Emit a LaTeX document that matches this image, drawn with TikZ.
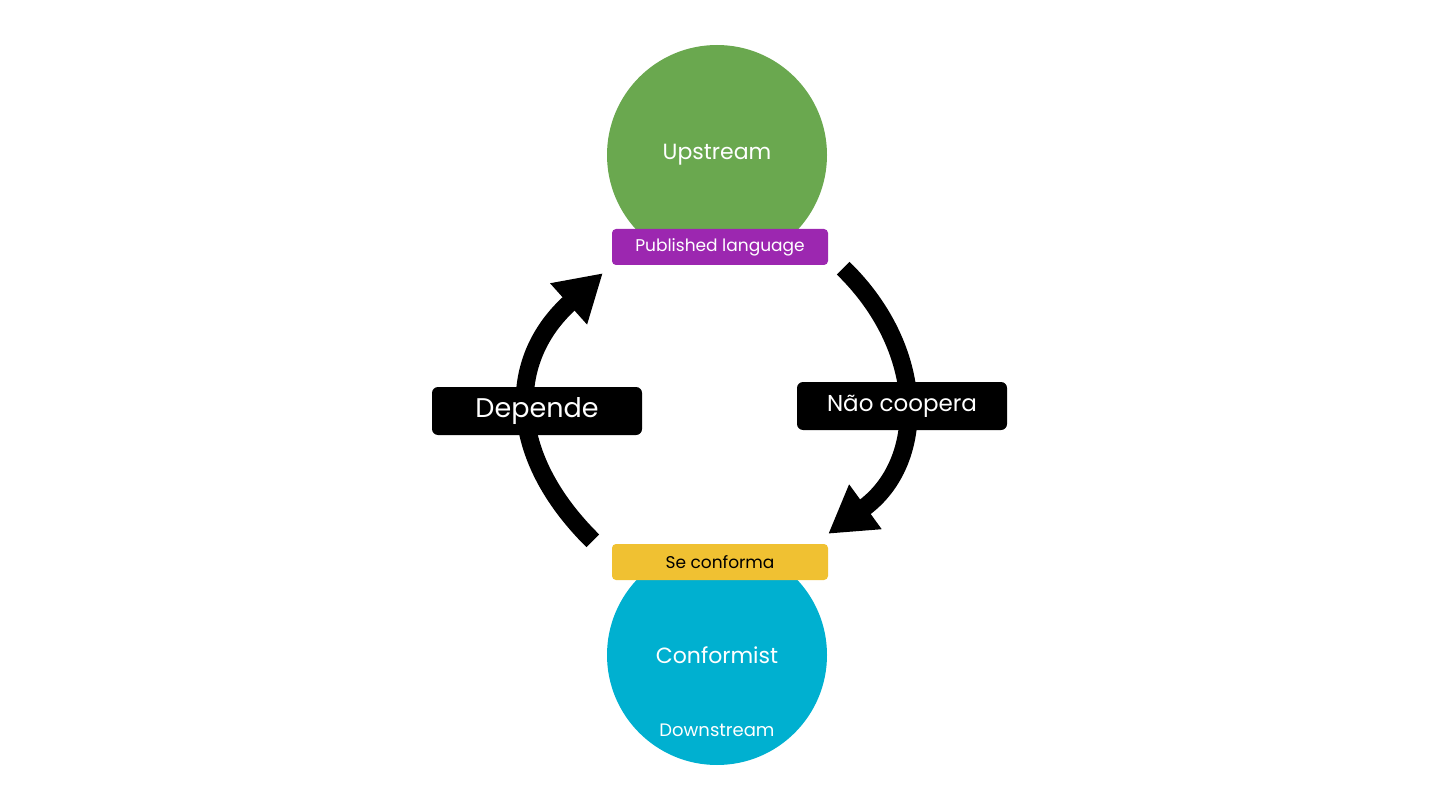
\documentclass[tikz,border=0pt]{standalone}
\usepackage{fontspec}
\setmainfont{Poppins}
\usetikzlibrary{positioning, arrows.meta}
\usepackage{xcolor}

\definecolor{upgreen}{RGB}{106,168,79}
\definecolor{downblue}{RGB}{0,176,208}
\definecolor{pubpurple}{RGB}{156,39,176}
\definecolor{confyellow}{RGB}{240,193,50}

\begin{document}
\begin{tikzpicture}[x=1pt, y=-1pt,
  ctx/.style={circle, minimum size=220pt, inner sep=0pt, text=white, font=\fontsize{22}{26}\selectfont},
  tag/.style={rounded corners=4pt, minimum width=216pt, minimum height=36pt, inner sep=0pt, font=\fontsize{17}{20}\selectfont},
  rel/.style={fill=black, rounded corners=6pt, minimum width=210pt, minimum height=48pt, inner sep=0pt, text=white},
  flow/.style={line width=18pt, -{Triangle[length=46pt, width=52pt]}}]

  \useasboundingbox (0,0) rectangle (1440,810);

  % ---- the two contexts ----
  \node[ctx, fill=upgreen] (up) at (717,155) {Upstream};
  \node[ctx, fill=downblue] (down) at (717,655) {Conformist};
  \node[text=white, font=\fontsize{18}{21}\selectfont] (downlbl) at (717,730) {Downstream};

  % ---- tags on the contexts ----
  \node[tag, fill=pubpurple, text=white] (pub) at (720,247) {Published language};
  \node[tag, fill=confyellow, text=black] (conf) at (720,562) {Se conforma};

  % ---- arrows ----
  \draw[flow] ([xshift=-19pt, yshift=3pt]conf.north west)
    .. controls (506,455) and (506,360) .. ([xshift=-9pt, yshift=-8pt]pub.south west);
  \draw[flow] ([xshift=15pt, yshift=-3pt]pub.south east)
    .. controls (927,350) and (927,462) .. ([yshift=10pt]conf.north east);

  % ---- relation labels ----
  \node[rel, font=\fontsize{27}{32}\selectfont] (dep) at (537,411) {Depende};
  \node[rel, font=\fontsize{23}{27}\selectfont] (noco) at (902,406) {Não coopera};

\end{tikzpicture}
\end{document}
